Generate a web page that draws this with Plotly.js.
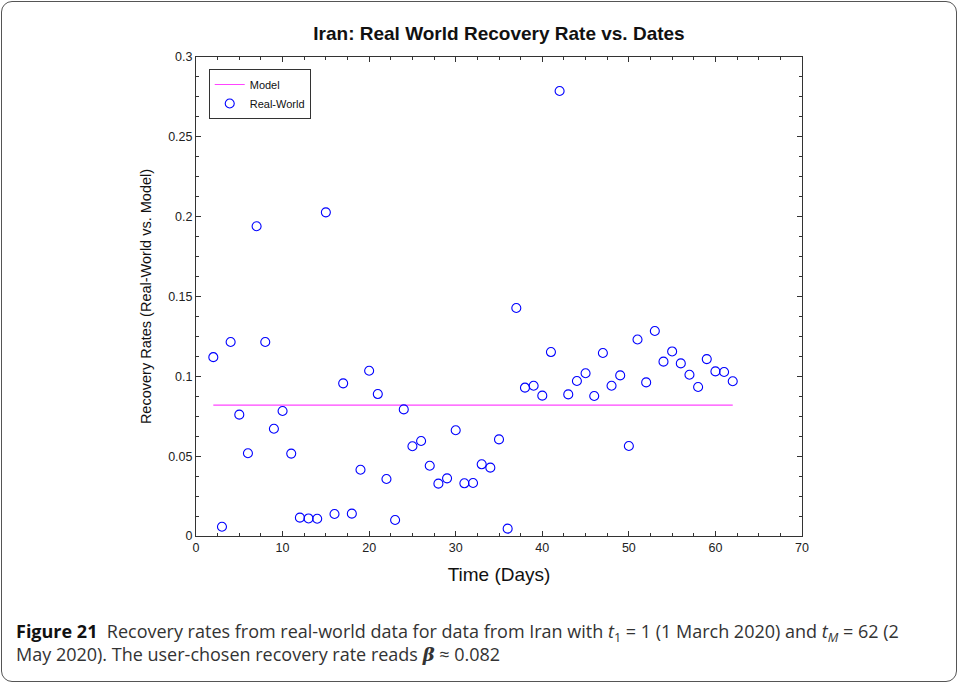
<!DOCTYPE html>
<html>
<head>
<meta charset="utf-8">
<script src="https://cdn.plot.ly/plotly-3.0.1.min.js"></script>
<style>
html,body{margin:0;padding:0;background:#fff;}
#chart{position:absolute;left:0;top:0;width:958px;height:685px;}
#frame{position:absolute;left:1px;top:1px;width:954px;height:679px;border:1.5px solid #555;border-radius:11px;pointer-events:none;}
</style>
</head>
<body>
<div id="chart"></div>
<div id="frame"></div>
<script>
const days = [2,3,4,5,6,7,8,9,10,11,12,13,14,15,16,17,18,19,20,21,22,23,24,25,26,27,28,29,30,31,32,33,34,35,36,37,38,39,40,41,42,43,44,45,46,47,48,49,50,51,52,53,54,55,56,57,58,59,60,61,62];
const realWorld = [0.112,0.0058,0.1215,0.076,0.0518,0.194,0.1215,0.0672,0.0783,0.0516,0.0115,0.011,0.0108,0.2027,0.0138,0.0956,0.014,0.0415,0.1035,0.0889,0.0357,0.010,0.0793,0.0562,0.0595,0.044,0.0328,0.0361,0.0662,0.033,0.0332,0.0449,0.0428,0.0605,0.0046,0.1428,0.0929,0.0941,0.0879,0.1152,0.2787,0.0887,0.0971,0.1019,0.0877,0.1146,0.0941,0.1006,0.0564,0.1231,0.0962,0.1284,0.1092,0.1156,0.1081,0.101,0.0933,0.1108,0.1031,0.1027,0.0969];
const modelRate = 0.082;
const modelDays = [2, 62];
const modelValues = [modelRate, modelRate];
const xTicks = [0,10,20,30,40,50,60,70];
const yTicks = [0,0.05,0.1,0.15,0.2,0.25,0.3];
const yTickLabels = ['0','0.05','0.1','0.15','0.2','0.25','0.3'];

const traces = [
  {x: modelDays, y: modelValues, mode:'lines', name:'Model',
   line:{color:'#ff44ff', width:1.2}},
  {x: days, y: realWorld, mode:'markers', name:'Real-World',
   marker:{symbol:'circle-open', size:9, color:'#0000ff', line:{width:1.1, color:'#0000ff'}}}
];

const axisFont = {family:'Liberation Sans, Arial, sans-serif', size:12.5, color:'#222'};
const layout = {
  width:958, height:685,
  margin:{l:196, r:156, t:57, b:149, pad:0},
  paper_bgcolor:'#fff', plot_bgcolor:'#fff',
  showlegend:true,
  title:{text:'<b>Iran: Real World Recovery Rate vs. Dates</b>',
         font:{family:'Liberation Sans, Arial, sans-serif', size:19, color:'#111'},
         x:0.5, xref:'paper', xanchor:'center', y:0.952, yref:'container', yanchor:'middle'},
  xaxis:{range:[0,70], tickvals:xTicks, ticktext:xTicks.map(String),
         ticks:'inside', ticklen:5, tickcolor:'#333', tickwidth:1,
         showline:true, linecolor:'#333', linewidth:1, mirror:'ticks',
         showgrid:false, zeroline:false, tickfont:axisFont,
         minor:{dtick:2.5, ticks:'inside', ticklen:3, tickcolor:'#333', showgrid:false},
         title:{text:'Time (Days)', font:{family:'Liberation Sans, Arial, sans-serif', size:19, color:'#111'}, standoff:13}},
  yaxis:{range:[0,0.3], tickvals:yTicks, ticktext:yTickLabels,
         ticks:'inside', ticklen:5, tickcolor:'#333', tickwidth:1,
         showline:true, linecolor:'#333', linewidth:1, mirror:'ticks',
         showgrid:false, zeroline:false, tickfont:axisFont,
         minor:{dtick:0.0125, ticks:'inside', ticklen:3, tickcolor:'#333', showgrid:false},
         title:{text:'Recovery Rates (Real-World vs. Model)', font:{family:'Liberation Sans, Arial, sans-serif', size:14.5, color:'#111'}, standoff:13}},
  legend:{x:0.021, y:0.975, xanchor:'left', yanchor:'top',
          bgcolor:'#fff', bordercolor:'#333', borderwidth:1,
          font:{family:'Liberation Sans, Arial, sans-serif', size:11, color:'#111'},
          tracegroupgap:0, itemwidth:30},
  annotations:[
    {xref:'paper', yref:'paper', x:-0.301, y:-0.169, xanchor:'left', yanchor:'top', align:'left', showarrow:false,
     font:{family:'Open Sans, Noto Sans, sans-serif', size:18, color:'#333'},
     text:'<b style="color:#111">Figure 21</b>  Recovery rates from real-world data for data from Iran with <i>t</i><sub>1</sub> = 1 (1 March 2020) and <i>t<sub>M</sub></i> = 62 (2<br>May 2020). The user-chosen recovery rate reads <span style="font-family:DejaVu Serif, serif"><b><i>β</i></b></span> ≈ 0.082'}
  ]
};
Plotly.newPlot('chart', traces, layout, {displayModeBar:false, staticPlot:true});
</script>
</body>
</html>
